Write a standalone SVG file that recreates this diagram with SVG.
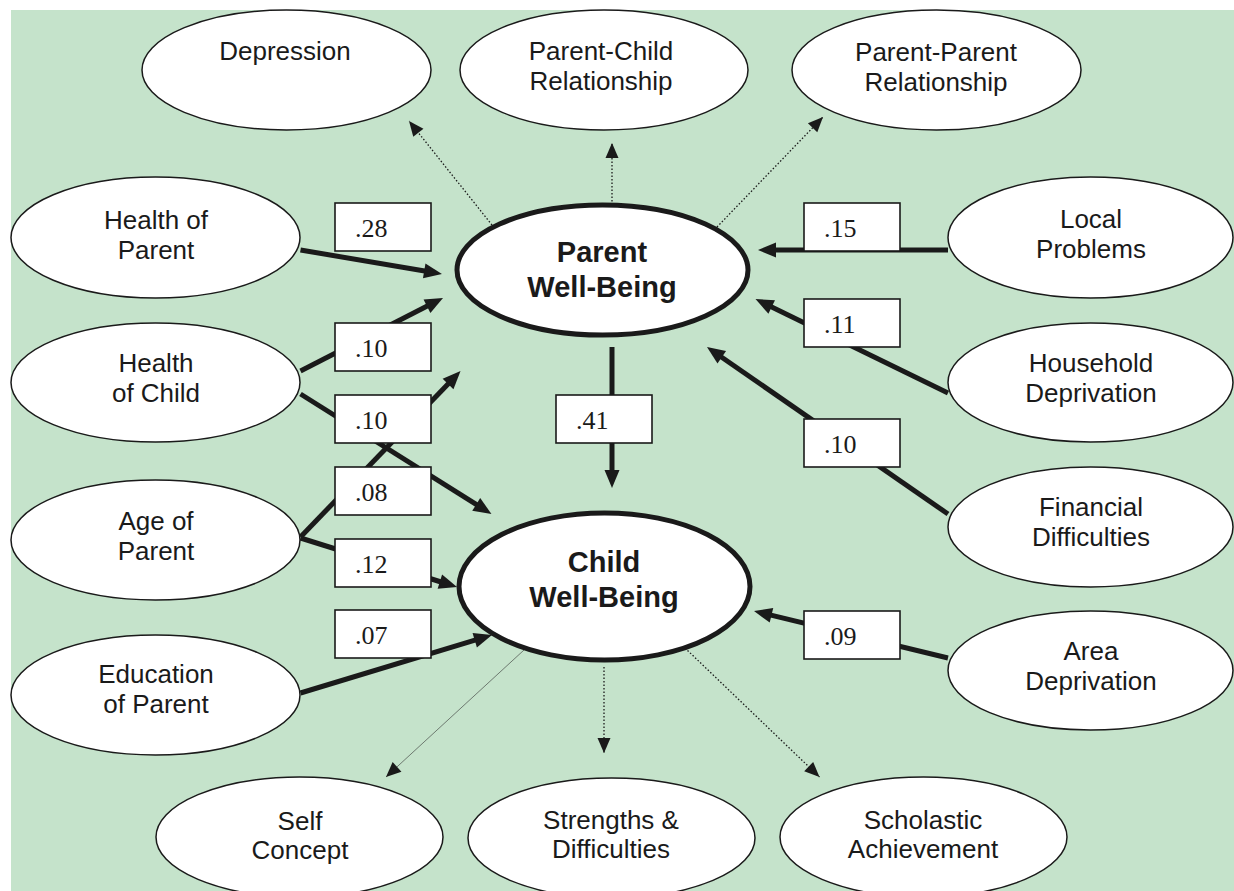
<svg xmlns="http://www.w3.org/2000/svg" width="1234" height="891" viewBox="0 0 1234 891">
<style>
.bg{fill:#c5e3cb}
.node ellipse{fill:#fff;stroke:#1a1a1a;stroke-width:1.5}
.node.main ellipse{stroke-width:5}
.node text{font-family:"Liberation Sans",Arial,sans-serif;font-size:26px;fill:#1a1a1a;text-anchor:middle}
.node.main text{font-weight:bold;font-size:29px}
.thick{stroke:#1a1a1a;stroke-width:5;fill:none;marker-end:url(#ah)}
.dot{stroke:#1a1a1a;stroke-width:1.3;stroke-dasharray:1.5 2;fill:none;marker-end:url(#ad)}
.hair{stroke:#333;stroke-width:0.6;fill:none;marker-end:url(#ad)}
.lbl rect{fill:#fff;stroke:#1a1a1a;stroke-width:1.6}
.lbl text{font-family:"Liberation Serif","Times New Roman",serif;font-size:26px;fill:#1a1a1a}
</style>
<defs>
<marker id="ah" markerUnits="userSpaceOnUse" markerWidth="18" markerHeight="15" refX="8" refY="7.5" orient="auto" overflow="visible"><path d="M0,0 L18,7.5 L0,15 Z" fill="#1a1a1a"/></marker>
<marker id="ad" markerUnits="userSpaceOnUse" markerWidth="15" markerHeight="13" refX="15" refY="6.5" orient="auto" overflow="visible"><path d="M0,0 L15,6.5 L0,13 Z" fill="#1a1a1a"/></marker>
</defs>
<rect class="bg" x="11" y="10" width="1223" height="881"/>
<g id="connectors">
<line class="thick" x1="300.5" y1="250" x2="432.1" y2="272.3"/>
<line class="thick" x1="300.5" y1="371" x2="434.1" y2="302.6"/>
<line class="thick" x1="300.5" y1="394" x2="483" y2="508.7"/>
<line class="thick" x1="300.5" y1="537" x2="453.6" y2="378.2"/>
<line class="thick" x1="300.5" y1="538" x2="447.5" y2="584"/>
<line class="thick" x1="300.5" y1="693" x2="482.4" y2="637.9"/>
<line class="thick" x1="612" y1="347" x2="612" y2="478"/>
<line class="thick" x1="948" y1="250" x2="768" y2="250"/>
<line class="thick" x1="948" y1="393" x2="764.5" y2="303.4"/>
<line class="thick" x1="948" y1="514" x2="715.2" y2="352.7"/>
<line class="thick" x1="948" y1="658" x2="763.7" y2="613.4"/>
<line class="dot" x1="492" y1="225" x2="409" y2="121"/>
<line class="dot" x1="612" y1="205" x2="612" y2="143"/>
<line class="dot" x1="717" y1="227" x2="823" y2="117"/>
<line class="hair" x1="524" y1="650" x2="386" y2="777"/>
<line class="dot" x1="604" y1="667" x2="604" y2="753"/>
<line class="dot" x1="685" y1="648" x2="819.5" y2="777"/>
</g>
<g id="labels" class="lbl">
<g id="l28"><rect x="335" y="203" width="96" height="48"/><text x="355" y="237">.28</text></g>
<g id="l10a"><rect x="335" y="323" width="96" height="48"/><text x="355" y="357">.10</text></g>
<g id="l10b"><rect x="335" y="395" width="96" height="48"/><text x="355" y="429">.10</text></g>
<g id="l08"><rect x="335" y="467" width="96" height="48"/><text x="355" y="501">.08</text></g>
<g id="l12"><rect x="335" y="539" width="96" height="48"/><text x="355" y="573">.12</text></g>
<g id="l07"><rect x="335" y="610" width="96" height="48"/><text x="355" y="644">.07</text></g>
<g id="l41"><rect x="556" y="395" width="96" height="48"/><text x="576" y="429">.41</text></g>
<g id="l15"><rect x="804" y="203" width="96" height="48"/><text x="824" y="237">.15</text></g>
<g id="l11"><rect x="804" y="299" width="96" height="48"/><text x="824" y="333">.11</text></g>
<g id="l10c"><rect x="804" y="419" width="96" height="48"/><text x="824" y="453">.10</text></g>
<g id="l09"><rect x="804" y="611" width="96" height="48"/><text x="824" y="645">.09</text></g>
</g>
<g id="depression" class="node"><ellipse cx="286.5" cy="70" rx="144.5" ry="60"/><text x="285" y="60">Depression</text></g>
<g id="parent-child" class="node"><ellipse cx="604" cy="70" rx="144" ry="60"/><text x="601" y="60">Parent-Child</text><text x="601" y="90">Relationship</text></g>
<g id="parent-parent" class="node"><ellipse cx="936.5" cy="70" rx="144.5" ry="60"/><text x="936" y="61">Parent-Parent</text><text x="936" y="91">Relationship</text></g>
<g id="health-parent" class="node"><ellipse cx="155.5" cy="237.5" rx="144.5" ry="60.5"/><text x="156" y="229">Health of</text><text x="156" y="259">Parent</text></g>
<g id="health-child" class="node"><ellipse cx="155.5" cy="382.5" rx="144.5" ry="59.5"/><text x="156" y="372">Health</text><text x="156" y="402">of Child</text></g>
<g id="age-parent" class="node"><ellipse cx="155.5" cy="540" rx="144.5" ry="60"/><text x="156" y="530">Age of</text><text x="156" y="560">Parent</text></g>
<g id="education-parent" class="node"><ellipse cx="155.5" cy="695" rx="144.5" ry="60"/><text x="156" y="683">Education</text><text x="156" y="713">of Parent</text></g>
<g id="local-problems" class="node"><ellipse cx="1090.5" cy="237.5" rx="142.5" ry="60.5"/><text x="1091" y="228">Local</text><text x="1091" y="258">Problems</text></g>
<g id="household-deprivation" class="node"><ellipse cx="1090.5" cy="382.5" rx="142.5" ry="59.5"/><text x="1091" y="372">Household</text><text x="1091" y="402">Deprivation</text></g>
<g id="financial-difficulties" class="node"><ellipse cx="1090.5" cy="527" rx="142.5" ry="60"/><text x="1091" y="516">Financial</text><text x="1091" y="546">Difficulties</text></g>
<g id="area-deprivation" class="node"><ellipse cx="1090.5" cy="670.5" rx="142.5" ry="59.5"/><text x="1091" y="660">Area</text><text x="1091" y="690">Deprivation</text></g>
<g id="parent-wellbeing" class="node main"><ellipse cx="602.5" cy="270" rx="145.5" ry="65"/><text x="602" y="262">Parent</text><text x="602" y="297">Well-Being</text></g>
<g id="child-wellbeing" class="node main"><ellipse cx="604.5" cy="586.5" rx="145.5" ry="73.5"/><text x="604" y="572">Child</text><text x="604" y="607">Well-Being</text></g>
<g id="self-concept" class="node"><ellipse cx="299.5" cy="837" rx="143.5" ry="60"/><text x="300" y="830">Self</text><text x="300" y="859">Concept</text></g>
<g id="strengths-difficulties" class="node"><ellipse cx="611.5" cy="838" rx="143.5" ry="60"/><text x="611" y="829">Strengths &amp;</text><text x="611" y="858">Difficulties</text></g>
<g id="scholastic-achievement" class="node"><ellipse cx="923.5" cy="837" rx="143.5" ry="60"/><text x="923" y="829">Scholastic</text><text x="923" y="858">Achievement</text></g>
</svg>
